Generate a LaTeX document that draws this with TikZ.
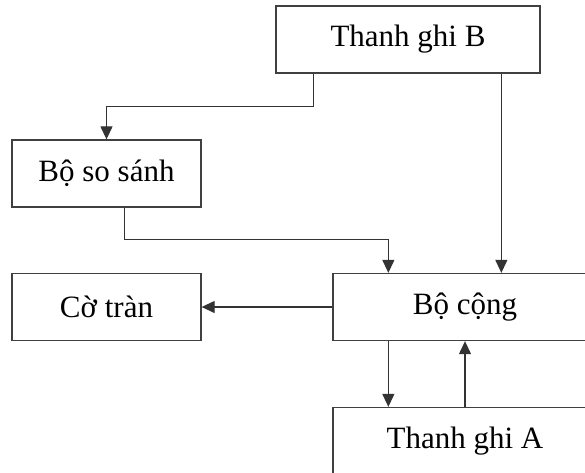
\documentclass[tikz,border=0pt]{standalone}
\usepackage{fontspec}
\setmainfont{Liberation Serif}
\usetikzlibrary{arrows.meta,calc}

\tikzset{
  block/.style={draw=black!75, line width=1.3pt, rectangle, minimum height=67pt,
    inner sep=0pt, font=\fontsize{31}{36}\selectfont},
  wideblock/.style={block, minimum width=264pt},
  smallblock/.style={block, minimum width=189pt},
  link/.style={draw=black!80, line width=1.2pt},
  arr/.style={link, -{Triangle[width=12pt,length=13pt]}}
}

\begin{document}
\begin{tikzpicture}[x=1pt,y=-1pt]
  \useasboundingbox (0,0) rectangle (585,472);
  \clip (0,0) rectangle (585,472);

  % registers and units
  \node[wideblock] (B) at (408,39.5) {Thanh ghi B};
  \node[smallblock] (S) at (106.5,173.5) {Bộ so sánh};
  \node[wideblock] (C) at (465,307) {Bộ cộng};
  \node[smallblock] (R) at (106.5,307) {Cờ tràn};
  \node[wideblock] (A) at (465,441) {Thanh ghi A};

  % data paths
  \draw[arr] ([xshift=38pt]B.south west) -- ++(0,33) -| (S.north);
  \draw[arr] ([xshift=113pt]S.south west) -- ++(0,32) -| ([xshift=56pt]C.north west);
  \draw[arr] ([xshift=226pt]B.south west) -- ([xshift=169pt]C.north west);
  \draw[arr] (C.west) -- (R.east);
  \draw[arr] ([xshift=56pt]C.south west) -- ([xshift=56pt]A.north west);
  \draw[arr] (A.north) -- (C.south);
\end{tikzpicture}
\end{document}
